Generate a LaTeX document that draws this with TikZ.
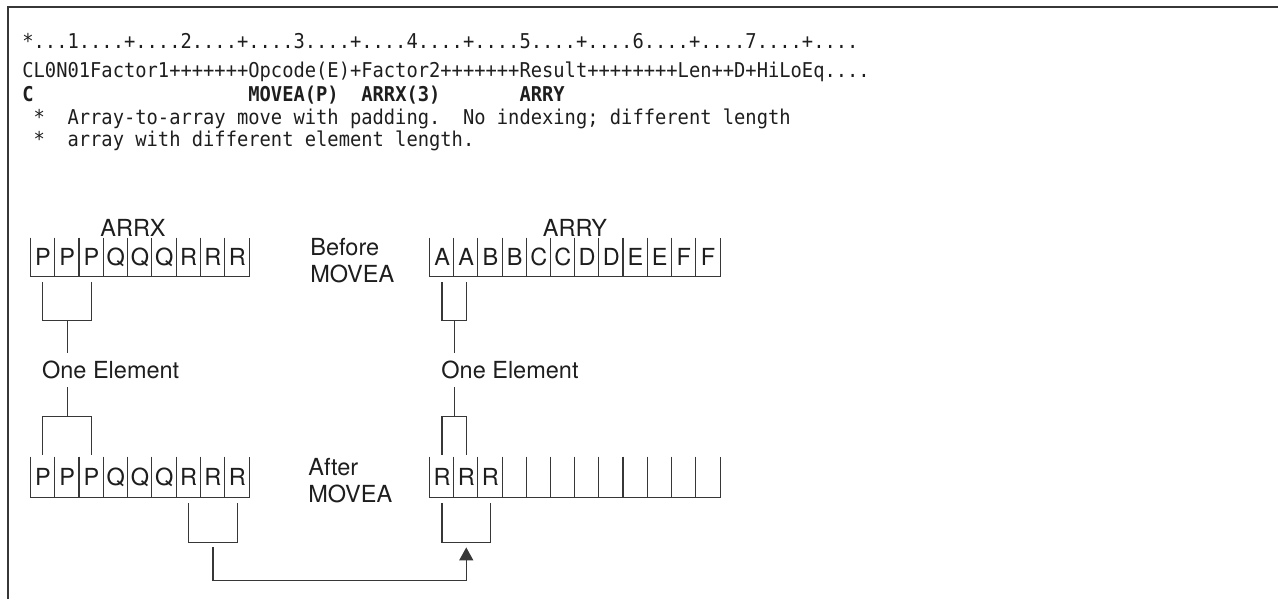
\documentclass[tikz,border=0pt]{standalone}
\usepackage{fontspec}
\setmainfont{TeX Gyre Heros}
\newfontfamily\codefont{DejaVu Sans Mono}[FakeStretch=0.92]
\usetikzlibrary{arrows.meta,calc}
\definecolor{ibmline}{RGB}{55,55,55}
\definecolor{ibmtext}{RGB}{30,30,30}

\begin{document}
\frenchspacing
\begin{tikzpicture}[
  x=0.5pt, y=-0.5pt,
  code/.style={anchor=base west, inner sep=0pt, text=ibmtext, font=\codefont\fontsize{10.2}{12}\selectfont},
  codeb/.style={code, font=\codefont\bfseries\fontsize{10.2}{12}\selectfont},
  lbl/.style={inner sep=0pt, text=ibmtext, font=\fontsize{11.75}{13.5}\selectfont},
  cell/.style={lbl, minimum width=12.1pt, minimum height=20pt},
  rule/.style={draw=ibmline, line width=0.55pt},
  brk/.style={draw=ibmline, line width=0.6pt}
]
\useasboundingbox (0,0) rectangle (1278,599);
\draw[draw=ibmline, line width=1pt] (1278,7) -- (8,7) -- (8,599);

\node[code] (ruler) at (22,49) {*...1....+....2....+....3....+....4....+....5....+....6....+....7....+....};
\node[code] (hdr) at (22,78) {CL0N01Factor1+++++++Opcode(E)+Factor2+++++++Result++++++++Len++D+HiLoEq....};
\node[codeb] (spec) at (22,102) {C~~~~~~~~~~~~~~~~~~~MOVEA(P)~~ARRX(3)~~~~~~~ARRY};
\node[code] (cmt1) at (22,124.5) {~*~~Array-to-array move with padding.~~No indexing; different length};
\node[code] (cmt2) at (22,147) {~*~~array with different element length.};

\node[lbl, anchor=base] (arrx) at (133,236) {ARRX};
\node[lbl, anchor=base] (arry) at (575,236) {ARRY};
\node[lbl, anchor=base west, align=left] (before) at (310,282) {Before\\MOVEA};
\node[lbl, anchor=base west, align=left] (after) at (308,502) {After\\MOVEA};

\foreach \t [count=\i] in {P,P,P,Q,Q,Q,R,R,R} {
  \node[cell, minimum height=19pt] (xb\i) at ({30.7+24.3*(\i-0.5)},257) {\t};
  \node[cell] (xa\i) at ({30.7+24.3*(\i-0.5)},477) {\t};
}
\foreach \t [count=\i] in {A,A,B,B,C,C,D,D,E,E,F,F}
  \node[cell, minimum height=19pt] (yb\i) at ({430+24.17*(\i-0.5)},257) {\t};
\foreach \t [count=\i] in {R,R,R,{},{},{},{},{},{},{},{},{}}
  \node[cell] (ya\i) at ({430+24.17*(\i-0.5)},477) {\t};

\foreach \a/\n in {xb/9,xa/9,yb/12,ya/12} {
  \draw[rule] (\a1.north west) |- (\a\n.south east) -- (\a\n.north east);
  \foreach \i in {2,...,\n} \draw[rule] (\a\i.north west) -- (\a\i.south west);
}

\node[lbl, anchor=west, inner ysep=4pt] (onex) at (41.7,370) {One Element};
\node[lbl, anchor=west, inner ysep=4pt] (oney) at (441,370) {One Element};

\coordinate (jxb) at ($(xb2.south)+(0,44)$);
\draw[brk] ($(xb1.south)+(0,6)$) |- (jxb) -| ($(xb3.south)+(0,6)$);
\draw[brk] (jxb) -- (jxb |- onex.north);
\coordinate (jxa) at ($(xa2.north)+(0,-40)$);
\draw[brk] ($(xa1.north)+(0,-2)$) |- (jxa) -| ($(xa3.north)+(0,-2)$);
\draw[brk] (jxa) -- (jxa |- onex.south);

\coordinate (jyb) at ($(yb1.south)!0.5!(yb2.south)+(0,44)$);
\draw[brk] ($(yb1.south)+(0,6)$) |- (jyb) -| ($(yb2.south)+(0,6)$);
\draw[brk] (jyb) -- (jyb |- oney.north);
\coordinate (jya) at ($(ya1.north)!0.5!(ya2.north)+(0,-40)$);
\draw[brk] ($(ya1.north)+(0,-2)$) |- (jya) -| ($(ya2.north)+(0,-2)$);
\draw[brk] (jya) -- (jya |- oney.south);

\coordinate (kxa) at ($(xa8.south)+(0,45)$);
\draw[brk] ($(xa7.south)+(0,6)$) |- (kxa) -| ($(xa9.south)+(0,6)$);
\coordinate (kya) at ($(ya2.south)+(0,45)$);
\draw[brk] ($(ya1.south)+(0,6)$) |- (kya) -| ($(ya3.south)+(0,6)$);
\draw[brk, -{Triangle[width=7pt,length=6.5pt]}] ($(kxa)+(0,5)$) -- ++(0,33) -| ($(kya)+(0,5)$);
\end{tikzpicture}
\end{document}
